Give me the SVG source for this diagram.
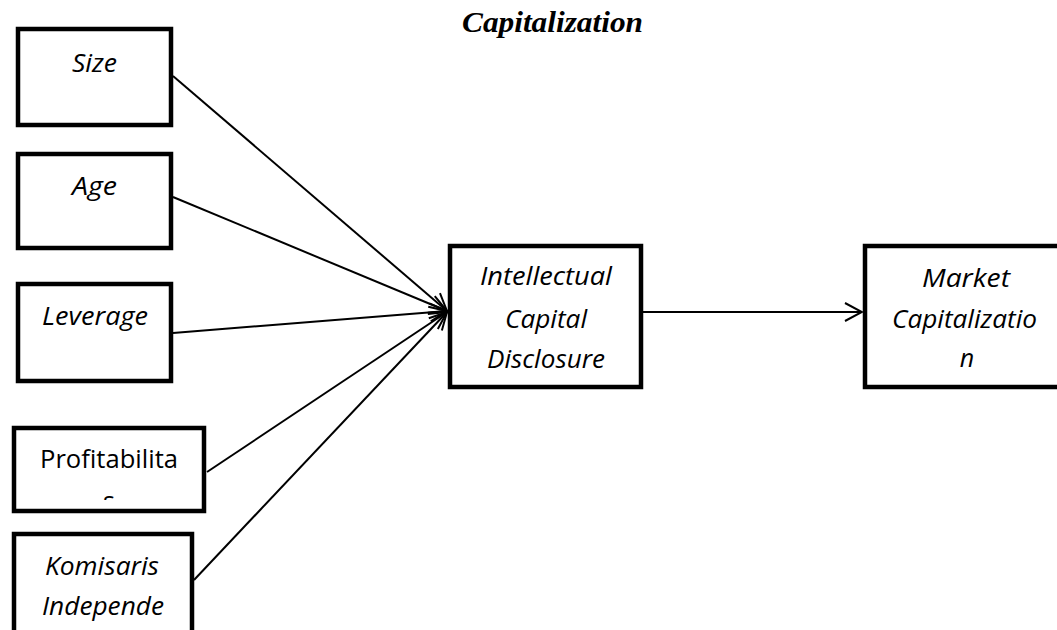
<svg xmlns="http://www.w3.org/2000/svg" width="1057" height="630" viewBox="0 0 1057 630">
<style>
.box{fill:#fff;stroke:#000;stroke-width:4.5}
.lbl{font-family:"Open Sans","Liberation Sans",sans-serif;font-size:25px;font-style:italic;fill:#000;text-anchor:middle}
.up{font-style:normal}
.con{stroke:#000;stroke-width:2;fill:none}
.title{font-family:"Liberation Serif","Times New Roman",serif;font-size:30px;font-weight:bold;font-style:italic;fill:#000}
</style>
<defs>
<marker id="arr" viewBox="0 0 20 20" refX="19" refY="10" markerWidth="20" markerHeight="20" markerUnits="userSpaceOnUse" orient="auto">
<path d="M2,1 L19,10 L2,19" fill="none" stroke="#000" stroke-width="2"/>
</marker>
<clipPath id="clipP"><rect x="14" y="428" width="190" height="72"/></clipPath>
</defs>
<rect width="1057" height="630" fill="#fff"/>
<text class="title" x="462" y="32" textLength="181" lengthAdjust="spacingAndGlyphs">Capitalization</text>
<g id="connectors">
<line class="con" x1="173" y1="76" x2="447" y2="311" marker-end="url(#arr)"/>
<line class="con" x1="173" y1="197" x2="447" y2="311" marker-end="url(#arr)"/>
<line class="con" x1="173" y1="333" x2="447" y2="311" marker-end="url(#arr)"/>
<line class="con" x1="207" y1="472" x2="447" y2="312" marker-end="url(#arr)"/>
<line class="con" x1="194" y1="580" x2="447" y2="312" marker-end="url(#arr)"/>
<line class="con" x1="643" y1="312" x2="862" y2="312" marker-end="url(#arr)"/>
</g>
<g id="size">
<rect class="box" x="18" y="29" width="153" height="96"/>
<text class="lbl" x="94.5" y="72" textLength="45" lengthAdjust="spacingAndGlyphs">Size</text>
</g>
<g id="age">
<rect class="box" x="18" y="154" width="153" height="94"/>
<text class="lbl" x="94.5" y="195" textLength="45" lengthAdjust="spacingAndGlyphs">Age</text>
</g>
<g id="leverage">
<rect class="box" x="18" y="284" width="153" height="97"/>
<text class="lbl" x="95" y="325" textLength="106" lengthAdjust="spacingAndGlyphs">Leverage</text>
</g>
<g id="profitabilitas">
<rect class="box" x="14" y="428" width="190" height="83"/>
<text class="lbl up" x="109" y="468" textLength="138" lengthAdjust="spacingAndGlyphs">Profitabilita</text>
<text class="lbl up" x="109" y="510" clip-path="url(#clipP)">s</text>
</g>
<g id="komisaris">
<rect class="box" x="14" y="534" width="178" height="120"/>
<text class="lbl" x="102" y="575" textLength="114" lengthAdjust="spacingAndGlyphs">Komisaris</text>
<text class="lbl" x="103" y="615" textLength="122" lengthAdjust="spacingAndGlyphs">Independe</text>
</g>
<g id="icd">
<rect class="box" x="450" y="246" width="191" height="141"/>
<text class="lbl" x="546" y="285" textLength="132" lengthAdjust="spacingAndGlyphs">Intellectual</text>
<text class="lbl" x="546" y="328" textLength="82" lengthAdjust="spacingAndGlyphs">Capital</text>
<text class="lbl" x="546" y="368" textLength="118" lengthAdjust="spacingAndGlyphs">Disclosure</text>
</g>
<g id="market">
<rect class="box" x="865" y="246" width="205" height="141"/>
<text class="lbl" x="966" y="287" textLength="88" lengthAdjust="spacingAndGlyphs">Market</text>
<text class="lbl" x="964.5" y="328" textLength="145" lengthAdjust="spacingAndGlyphs">Capitalizatio</text>
<text class="lbl" x="967" y="367">n</text>
</g>
</svg>
